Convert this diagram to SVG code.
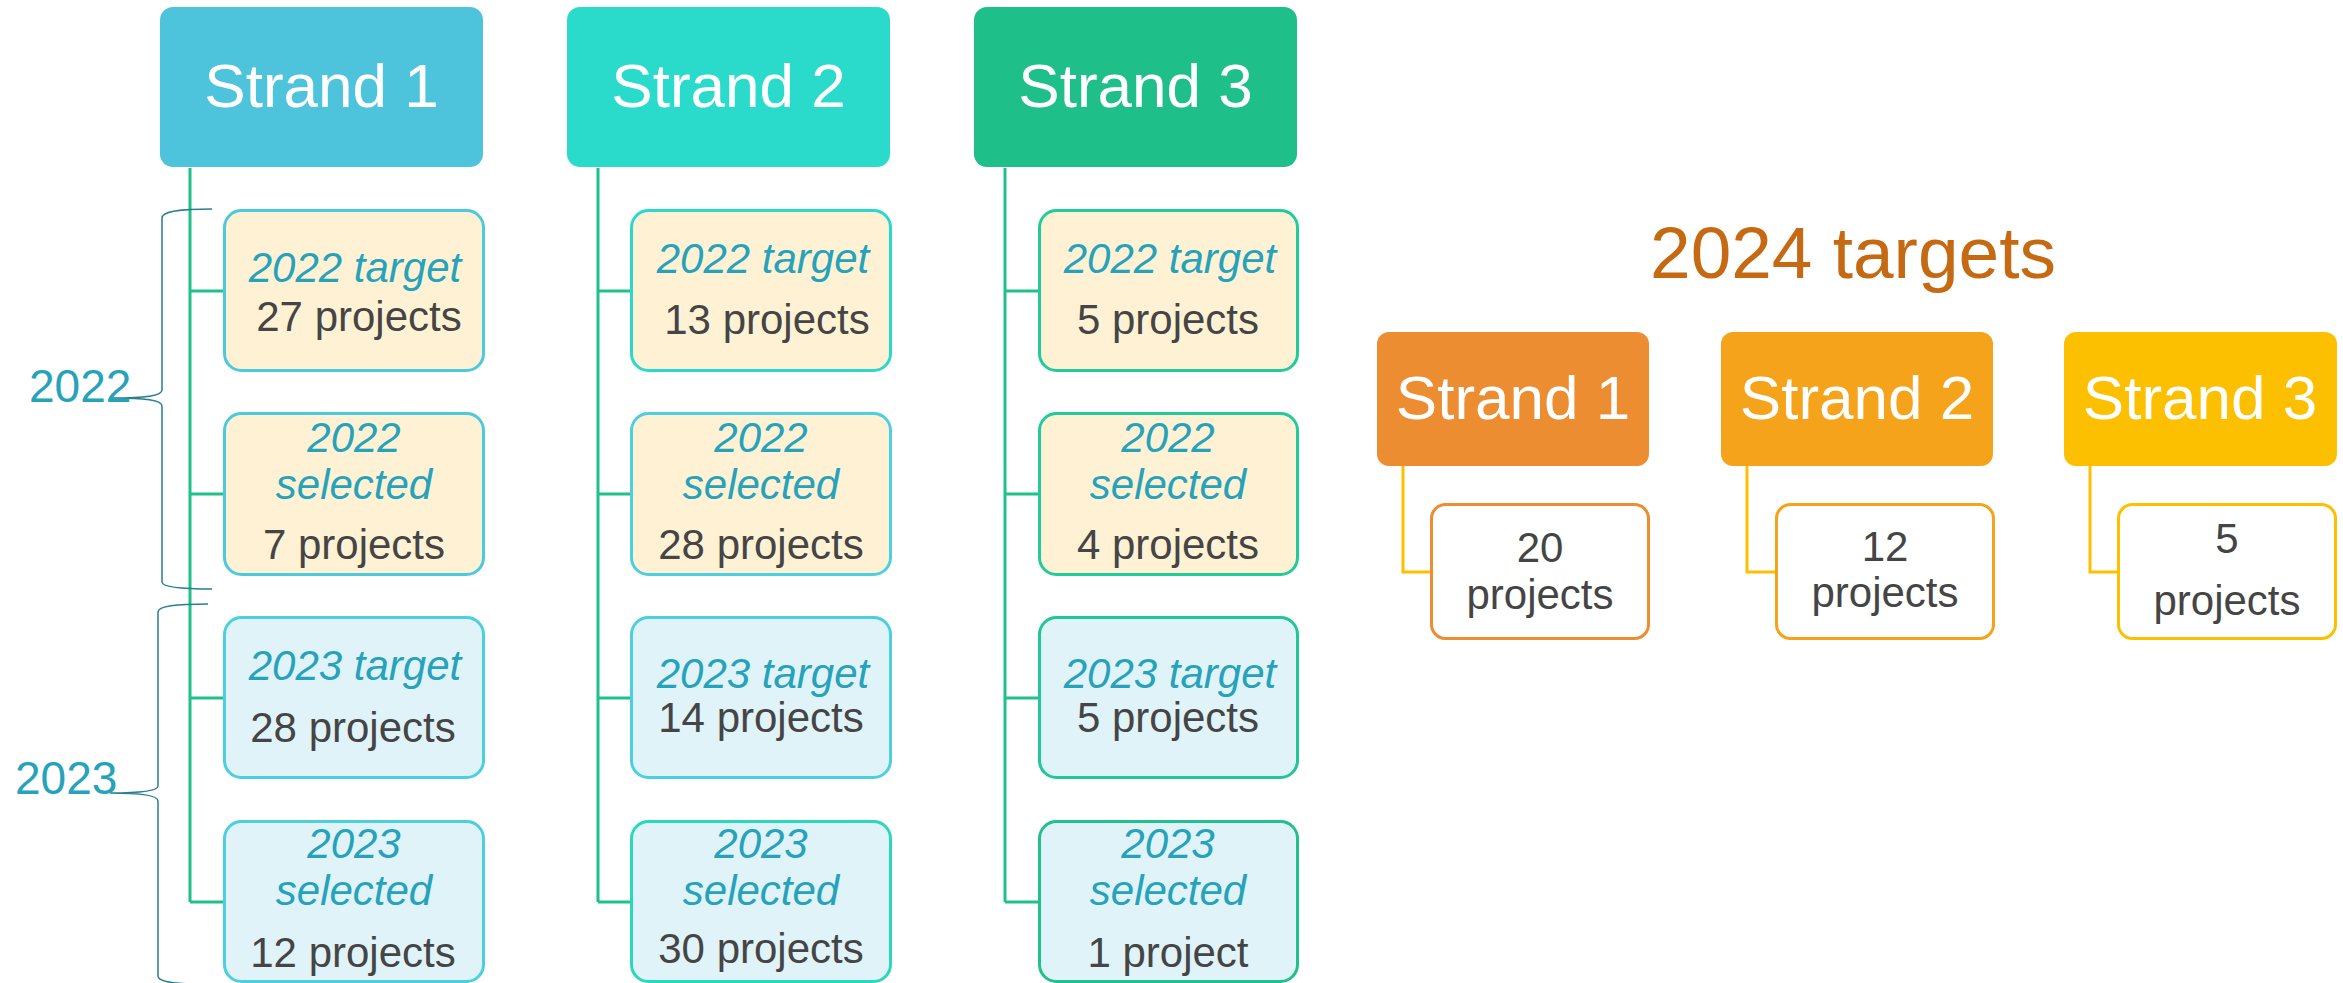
<svg xmlns="http://www.w3.org/2000/svg" width="2343" height="983" viewBox="0 0 2343 983">
<style>
text{font-family:"Liberation Sans",Arial,sans-serif;}
.hd{font-size:62px;fill:#ffffff;text-anchor:middle;}
.it{font-size:42px;font-style:italic;fill:#26a2ba;text-anchor:middle;}
.nm{font-size:42px;fill:#454545;text-anchor:middle;}
.yr{font-size:46px;fill:#26a2ba;}
.ti{font-size:73px;fill:#c56a13;text-anchor:middle;}
.b22{fill:#fff2d4;stroke-width:3;}
.b23{fill:#dff3f8;stroke-width:3;}
.cn{fill:none;stroke:#20c08a;stroke-width:3;}
.cy{fill:none;stroke:#fcc000;stroke-width:3;}
.br{fill:none;stroke:#2a7f8f;stroke-width:1.5;}
.ob{fill:#ffffff;stroke-width:3;}
</style>
<rect width="2343" height="983" fill="#ffffff"/>

<g id="connectors">
<path class="cn" d="M190,168 V902 M190,291 H223 M190,494 H223 M190,698 H223 M190,902 H223"/>
<path class="cn" d="M598,168 V902 M598,291 H630 M598,494 H630 M598,698 H630 M598,902 H630"/>
<path class="cn" d="M1005,168 V902 M1005,291 H1038 M1005,494 H1038 M1005,698 H1038 M1005,902 H1038"/>
<path class="cy" d="M1403,466 V572 H1430"/>
<path class="cy" d="M1747,466 V572 H1775"/>
<path class="cy" d="M2090,466 V572 H2117"/>
</g>

<g id="brace-2022">
<path class="br" d="M212,209 C180,209 162,211 162,218 V390 C162,396 145,398 113,398 C145,398 162,400 162,406 V582 C162,587 180,589 212,589"/>
<text class="yr" x="29" y="402">2022</text>
</g>
<g id="brace-2023">
<path class="br" d="M208,604 C176,604 158,606 158,612 V786 C158,791 140,793 110,793 C140,793 158,795 158,801 V976 C158,981 170,983 190,984"/>
<text class="yr" x="15" y="794">2023</text>
</g>

<!-- Strand 1 column -->
<g id="strand1">
<rect x="160" y="7" width="323" height="160" rx="13" fill="#4dc4dc"/>
<text class="hd" x="321.5" y="107">Strand 1</text>
</g>
<g id="s1-2022-target">
<rect class="b22" x="224.5" y="210.5" width="259" height="160" rx="17" stroke="#4ccadd"/>
<text class="it" x="355" y="282">2022 target</text>
<text class="nm" x="359" y="331">27 projects</text>
</g>
<g id="s1-2022-selected">
<rect class="b22" x="224.5" y="413.5" width="259" height="161" rx="17" stroke="#4ccadd"/>
<text class="it" x="354" y="452">2022</text>
<text class="it" x="354" y="499">selected</text>
<text class="nm" x="354" y="559">7 projects</text>
</g>
<g id="s1-2023-target">
<rect class="b23" x="224.5" y="617.5" width="259" height="160" rx="17" stroke="#4ccfde"/>
<text class="it" x="355" y="680">2023 target</text>
<text class="nm" x="353" y="742">28 projects</text>
</g>
<g id="s1-2023-selected">
<rect class="b23" x="224.5" y="821.5" width="259" height="160" rx="17" stroke="#4ccfde"/>
<text class="it" x="354" y="858">2023</text>
<text class="it" x="354" y="905">selected</text>
<text class="nm" x="353" y="967">12 projects</text>
</g>

<!-- Strand 2 column -->
<g id="strand2">
<rect x="567" y="7" width="323" height="160" rx="13" fill="#2adbcc"/>
<text class="hd" x="728.5" y="107">Strand 2</text>
</g>
<g id="s2-2022-target">
<rect class="b22" x="631.5" y="210.5" width="259" height="160" rx="17" stroke="#2ad9cd"/>
<text class="it" x="763" y="273">2022 target</text>
<text class="nm" x="767" y="334">13 projects</text>
</g>
<g id="s2-2022-selected">
<rect class="b22" x="631.5" y="413.5" width="259" height="161" rx="17" stroke="#4ccfe0"/>
<text class="it" x="761" y="452">2022</text>
<text class="it" x="761" y="499">selected</text>
<text class="nm" x="761" y="559">28 projects</text>
</g>
<g id="s2-2023-target">
<rect class="b23" x="631.5" y="617.5" width="259" height="160" rx="17" stroke="#4ccfe0"/>
<text class="it" x="763" y="688">2023 target</text>
<text class="nm" x="761" y="732">14 projects</text>
</g>
<g id="s2-2023-selected">
<rect class="b23" x="631.5" y="821.5" width="259" height="160" rx="17" stroke="#2ad8bc"/>
<text class="it" x="761" y="858">2023</text>
<text class="it" x="761" y="905">selected</text>
<text class="nm" x="761" y="963">30 projects</text>
</g>

<!-- Strand 3 column -->
<g id="strand3">
<rect x="974" y="7" width="323" height="160" rx="13" fill="#1fbf8a"/>
<text class="hd" x="1135.5" y="107">Strand 3</text>
</g>
<g id="s3-2022-target">
<rect class="b22" x="1039.5" y="210.5" width="258" height="160" rx="17" stroke="#22cb9c"/>
<text class="it" x="1170" y="273">2022 target</text>
<text class="nm" x="1168" y="334">5 projects</text>
</g>
<g id="s3-2022-selected">
<rect class="b22" x="1039.5" y="413.5" width="258" height="161" rx="17" stroke="#22cb9c"/>
<text class="it" x="1168" y="452">2022</text>
<text class="it" x="1168" y="499">selected</text>
<text class="nm" x="1168" y="559">4 projects</text>
</g>
<g id="s3-2023-target">
<rect class="b23" x="1039.5" y="617.5" width="258" height="160" rx="17" stroke="#22c796"/>
<text class="it" x="1170" y="688">2023 target</text>
<text class="nm" x="1168" y="732">5 projects</text>
</g>
<g id="s3-2023-selected">
<rect class="b23" x="1039.5" y="821.5" width="258" height="160" rx="17" stroke="#22c08c"/>
<text class="it" x="1168" y="858">2023</text>
<text class="it" x="1168" y="905">selected</text>
<text class="nm" x="1168" y="967">1 project</text>
</g>

<!-- 2024 targets -->
<g id="title-2024">
<text class="ti" x="1853" y="278">2024 targets</text>
</g>
<g id="t24-strand1">
<rect x="1377" y="332" width="272" height="134" rx="12" fill="#ed8d31"/>
<text class="hd" x="1513" y="419">Strand 1</text>
</g>
<g id="t24-strand1-box">
<rect class="ob" x="1431.5" y="504.5" width="217" height="134" rx="14" stroke="#ed8d31"/>
<text class="nm" x="1540" y="562">20</text>
<text class="nm" x="1540" y="609">projects</text>
</g>
<g id="t24-strand2">
<rect x="1721" y="332" width="272" height="134" rx="12" fill="#f4a31b"/>
<text class="hd" x="1857" y="419">Strand 2</text>
</g>
<g id="t24-strand2-box">
<rect class="ob" x="1776.5" y="504.5" width="217" height="134" rx="14" stroke="#f4a31b"/>
<text class="nm" x="1885" y="561">12</text>
<text class="nm" x="1885" y="607">projects</text>
</g>
<g id="t24-strand3">
<rect x="2064" y="332" width="273" height="134" rx="12" fill="#fdc000"/>
<text class="hd" x="2200" y="419">Strand 3</text>
</g>
<g id="t24-strand3-box">
<rect class="ob" x="2118.5" y="504.5" width="217" height="134" rx="14" stroke="#fdc000"/>
<text class="nm" x="2227" y="553">5</text>
<text class="nm" x="2227" y="615">projects</text>
</g>
</svg>
